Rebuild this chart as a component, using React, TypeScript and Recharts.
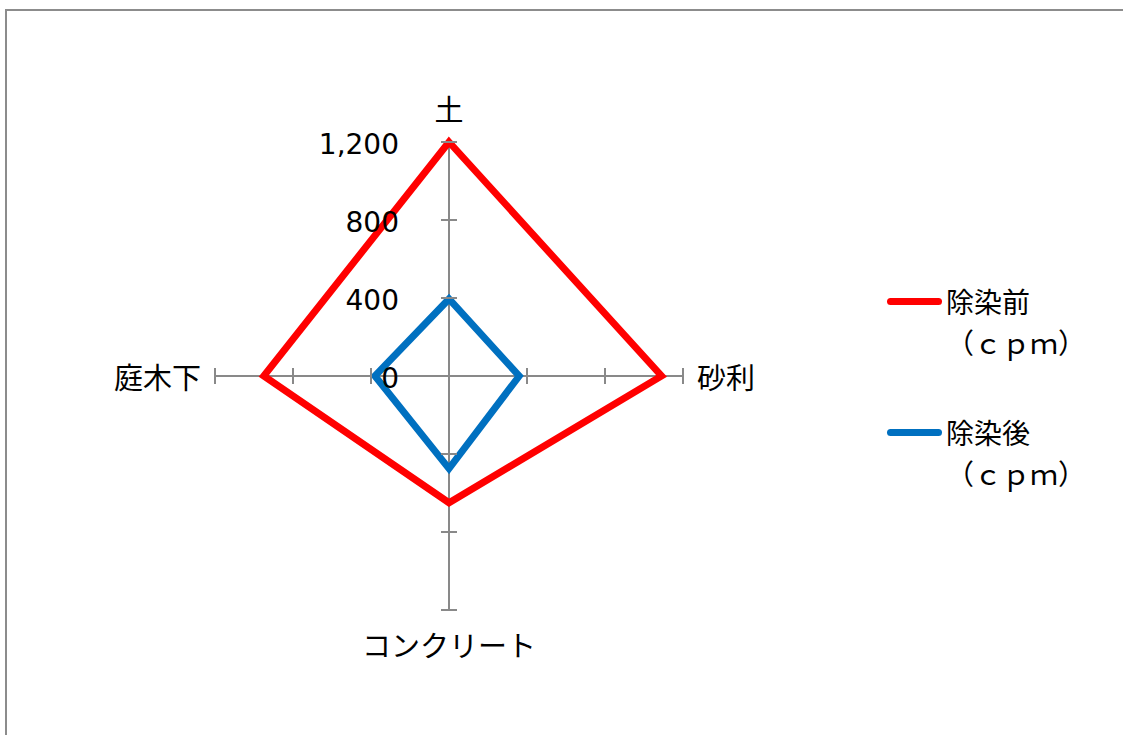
import { RadarChart, Radar, PolarGrid, PolarAngleAxis, PolarRadiusAxis, Legend } from "recharts";

const CATEGORIES = ["土", "砂利", "コンクリート", "庭木下"];
const BEFORE = [1200, 1090, 650, 950];
const AFTER = [395, 360, 475, 380];
const RADIUS_TICKS = [0, 400, 800, 1200];
const SERIES_NAMES = ["除染前（ｃｐｍ）", "除染後（ｃｐｍ）"];

const data = CATEGORIES.map((c, i) => ({ name: c, before: BEFORE[i], after: AFTER[i] }));

const AXIS = "#898989";
const FONT = "'Noto Sans CJK JP', 'Noto Sans', sans-serif";
const NUM_FONT = "'DejaVu Sans', sans-serif";

function fmt(v: number) {
  return v.toLocaleString("en-US");
}

// value labels on the top axis, cross marks on all four axes at the same radius
function RadiusTick(props: any) {
  const { x, y, payload } = props;
  const r = payload.coordinate;
  const cx = x;
  const cy = y + r;
  const m = 8;
  return (
    <g>
      {payload.value > 0 && (
        <g stroke={AXIS} strokeWidth={2}>
          <line x1={cx - m} x2={cx + m} y1={cy - r} y2={cy - r} />
          <line x1={cx - m} x2={cx + m} y1={cy + r} y2={cy + r} />
          <line x1={cx + r} x2={cx + r} y1={cy - m} y2={cy + m} />
          <line x1={cx - r} x2={cx - r} y1={cy - m} y2={cy + m} />
        </g>
      )}
      <text
        x={x - 50}
        y={y + 2}
        textAnchor="end"
        dominantBaseline="central"
        fontSize={28}
        fill="#000"
        fontFamily={NUM_FONT}
      >
        {fmt(payload.value)}
      </text>
    </g>
  );
}

function AngleTick(props: any) {
  const { x, y, payload } = props;
  const a = (payload.coordinate * Math.PI) / 180;
  const ux = Math.cos(a);
  const uy = -Math.sin(a);
  const anchor = Math.abs(ux) < 0.1 ? "middle" : ux > 0 ? "start" : "end";
  return (
    <text
      x={x + ux * 6}
      y={y + uy * 26}
      textAnchor={anchor}
      dominantBaseline="central"
      fontSize={29}
      fill="#000"
      fontFamily={FONT}
    >
      {payload.value}
    </text>
  );
}

function LegendContent(props: any) {
  const items = props.payload || [];
  return (
    <div style={{ display: "flex", flexDirection: "column", gap: 49, fontFamily: FONT, fontSize: 28 }}>
      {items.map((it: any) => {
        const [head, unit] = String(it.value).split("（");
        return (
          <div key={it.value} style={{ display: "flex", alignItems: "flex-start" }}>
            <div style={{ width: 55, height: 7, borderRadius: 4, background: it.color, marginTop: 17, marginRight: 4 }} />
            <div style={{ lineHeight: "41px", color: "#000" }}>
              <div>{head}</div>
              <div>{"（" + unit}</div>
            </div>
          </div>
        );
      })}
    </div>
  );
}

export default function App() {
  return (
    <div
      style={{
        position: "absolute",
        left: 5,
        top: 9,
        width: 1130,
        height: 740,
        border: "2px solid #8c8c8c",
        background: "#fff",
        fontFamily: FONT,
      }}
    >
      <RadarChart
        width={1130}
        height={740}
        data={data}
        cx={442}
        cy={365}
        outerRadius={234}
        margin={{ top: 0, right: 0, bottom: 0, left: 0 }}
      >
        <PolarGrid polarRadius={[0]} stroke={AXIS} strokeWidth={2} />
        <PolarAngleAxis dataKey="name" axisLine={false} tickLine={false} tick={AngleTick} />
        <PolarRadiusAxis
          angle={90}
          domain={[0, 1200]}
          ticks={RADIUS_TICKS}
          type="number"
          axisLine={false}
          tick={RadiusTick}
        />
        <Radar
          name={SERIES_NAMES[0]}
          dataKey="before"
          stroke="#FF0000"
          strokeWidth={7}
          strokeLinejoin="miter"
          fill="none"
          fillOpacity={0}
          isAnimationActive={false}
        />
        <Radar
          name={SERIES_NAMES[1]}
          dataKey="after"
          stroke="#0070C0"
          strokeWidth={7}
          strokeLinejoin="miter"
          fill="none"
          fillOpacity={0}
          isAnimationActive={false}
        />
        <Legend
          layout="vertical"
          align="right"
          verticalAlign="middle"
          content={LegendContent}
          wrapperStyle={{ left: 880, top: 270, right: "auto", width: 240 }}
        />
      </RadarChart>
    </div>
  );
}
